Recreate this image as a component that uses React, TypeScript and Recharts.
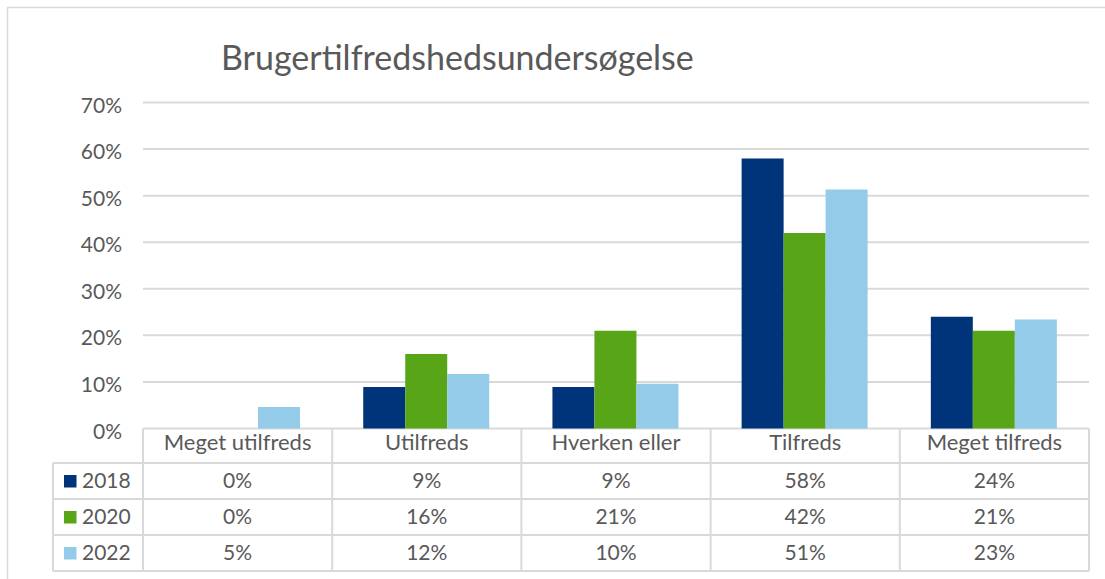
import React from "react";
import { BarChart, Bar, XAxis, YAxis, CartesianGrid } from "recharts";

const categories = ["Meget utilfreds", "Utilfreds", "Hverken eller", "Tilfreds", "Meget tilfreds"];
const years = ["2018", "2020", "2022"];
const values2018 = [0, 8.9, 8.9, 58, 24];
const values2020 = [0, 16, 21, 42, 21];
const values2022 = [4.6, 11.7, 9.6, 51.3, 23.4];
const yTicks = [0, 10, 20, 30, 40, 50, 60, 70];
const title = "Brugertilfredshedsundersøgelse";

const palette = ["#00347a", "#58a618", "#93cbe8"];
const seriesValues = [values2018, values2020, values2022];

const data = categories.map((name, i) => ({
  name,
  y2018: values2018[i],
  y2020: values2020[i],
  y2022: values2022[i],
}));

const W = 1105;
const H = 579;
const PLOT_LEFT = 143;
const PLOT_RIGHT = 1089;
const PLOT_TOP = 102.5;
const PLOT_BOTTOM = 428.5;
const X_AXIS_H = 30;
const Y_AXIS_W = 60;
const FONT = "Lato, 'Open Sans', sans-serif";
const TEXT = "#595959";
const GRID = "#d9d9d9";

const ROW_TOPS = [463, 499, 535];
const ROW_H = 36;
const LEGEND_LEFT = 53;

function YTick(props: any) {
  const { x, y, payload } = props;
  return (
    <text x={x} y={y + 10} textAnchor="end" fill={TEXT} fontSize={21} fontFamily={FONT}>
      {payload.value}%
    </text>
  );
}

function DataTable() {
  const colW = (PLOT_RIGHT - PLOT_LEFT) / categories.length;
  const bottom = ROW_TOPS[ROW_TOPS.length - 1] + ROW_H;
  return (
    <svg width={W} height={H} style={{ position: "absolute", left: 0, top: 0, pointerEvents: "none" }}>
      <rect x={7.5} y={7.5} width={W + 50} height={H + 50} fill="none" stroke={GRID} strokeWidth={1.5} />
      <text x={221} y={70} fill={TEXT} fontSize={34} fontFamily={FONT}>
        {title}
      </text>
      {categories.map((_, i) => (
        <line key={"v" + i} x1={PLOT_LEFT + i * colW} x2={PLOT_LEFT + i * colW} y1={PLOT_BOTTOM} y2={bottom} stroke={GRID} strokeWidth={2} />
      ))}
      <line x1={PLOT_RIGHT} x2={PLOT_RIGHT} y1={PLOT_BOTTOM} y2={bottom} stroke={GRID} strokeWidth={2} />
      <line x1={LEGEND_LEFT} x2={LEGEND_LEFT} y1={ROW_TOPS[0]} y2={bottom} stroke={GRID} strokeWidth={2} />
      {[...ROW_TOPS, bottom].map((y, i) => (
        <line key={"h" + i} x1={LEGEND_LEFT} x2={PLOT_RIGHT} y1={y} y2={y} stroke={GRID} strokeWidth={2} />
      ))}
      {years.map((yr, r) => (
        <g key={yr}>
          <rect x={64} y={ROW_TOPS[r] + 12} width={12.5} height={12.5} fill={palette[r]} />
          <text x={82} y={ROW_TOPS[r] + 25} fill={TEXT} fontSize={21} fontFamily={FONT}>
            {yr}
          </text>
          {seriesValues[r].map((v, c) => (
            <text
              key={c}
              x={PLOT_LEFT + (c + 0.5) * colW}
              y={ROW_TOPS[r] + 25}
              textAnchor="middle"
              fill={TEXT}
              fontSize={21}
              fontFamily={FONT}
            >
              {Math.round(v)}%
            </text>
          ))}
        </g>
      ))}
    </svg>
  );
}

export default function App() {
  return (
    <div style={{ position: "absolute", left: 0, top: 0, width: W, height: H, overflow: "hidden", background: "#fff" }}>
      <BarChart
        width={W}
        height={H}
        data={data}
        margin={{
          top: PLOT_TOP,
          right: W - PLOT_RIGHT,
          bottom: H - PLOT_BOTTOM - X_AXIS_H,
          left: PLOT_LEFT - Y_AXIS_W,
        }}
        barGap={0}
        barCategoryGap="16.4%"
      >
        <CartesianGrid vertical={false} stroke={GRID} strokeWidth={2} />
        <XAxis
          dataKey="name"
          height={X_AXIS_H}
          axisLine={false}
          tickLine={false}
          tickSize={0}
          tickMargin={6}
          interval={0}
          tick={{ fill: TEXT, fontSize: 22, fontFamily: FONT }}
        />
        <YAxis
          width={Y_AXIS_W}
          domain={[0, 70]}
          ticks={yTicks}
          axisLine={false}
          tickLine={false}
          tickSize={0}
          tickMargin={21}
          tick={<YTick />}
        />
        <Bar dataKey="y2018" name="2018" fill={palette[0]} isAnimationActive={false} />
        <Bar dataKey="y2020" name="2020" fill={palette[1]} isAnimationActive={false} />
        <Bar dataKey="y2022" name="2022" fill={palette[2]} isAnimationActive={false} />
      </BarChart>
      <DataTable />
    </div>
  );
}
